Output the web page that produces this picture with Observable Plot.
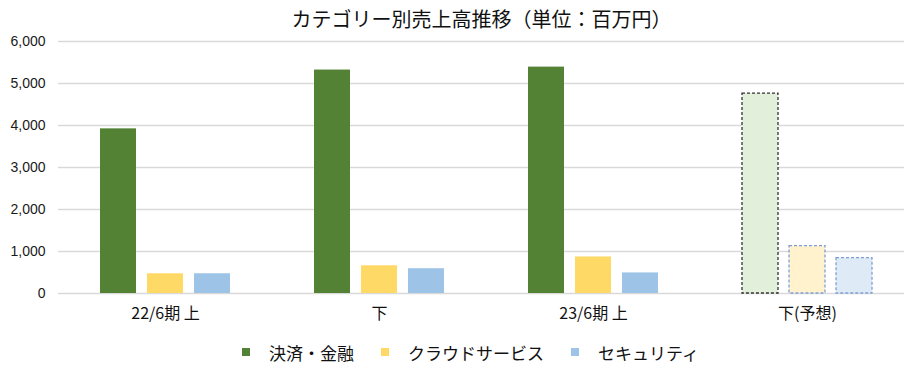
<!DOCTYPE html>
<html>
<head>
<meta charset="utf-8">
<script src="https://cdn.jsdelivr.net/npm/d3@7"></script>
<script src="https://cdn.jsdelivr.net/npm/@observablehq/plot@0.6"></script>
<style>
  body { margin: 0; background: #fff; width: 915px; height: 384px; position: relative; overflow: hidden; }
  #title { position: absolute; left: 58px; width: 847px; top: 4px; height: 30px; line-height: 30px; text-align: center;
           font-family: "Noto Sans CJK JP", sans-serif; font-size: 20px; color: #111; }
  #chart { position: absolute; left: 0; top: 34px; }
  #legend { position: absolute; left: 242px; top: 340px; height: 24px; display: flex; align-items: center;
            font-family: "Noto Sans CJK JP", sans-serif; font-size: 17px; color: #111; }
  .item { display: flex; align-items: center; margin-right: 27px; }
  .sw { width: 8px; height: 8px; margin-right: 19px; }
</style>
</head>
<body>
<div id="title">カテゴリー別売上高推移（単位：百万円）</div>
<div id="chart"></div>
<div id="legend"></div>
<script>
const periods = ["22/6期 上", "下", "23/6期 上", "下(予想)"];
const forecastPeriod = "下(予想)";
const series = ["決済・金融", "クラウドサービス", "セキュリティ"];
const payments = [3920, 5320, 5390, 4760];
const cloud = [470, 660, 870, 1130];
const security = [470, 590, 490, 840];
const yTicks = [0, 1000, 2000, 3000, 4000, 5000, 6000];

const colors = ["#548235", "#ffd966", "#9dc3e6"];
const forecastFills = ["#e2efda", "#fff2cc", "#deebf7"];
const forecastStrokes = ["#333333", "#7f9ed8", "#7f9ed8"];

const valuesBySeries = [payments, cloud, security];
const data = [];
periods.forEach((p, i) => {
  series.forEach((s, j) => {
    data.push({period: p, series: s, value: valuesBySeries[j][i], forecast: p === forecastPeriod});
  });
});

// grid rows per facet (last facet's grid stops short of the right edge)
const gridRows = [];
periods.forEach(p => yTicks.forEach(t => gridRows.push({period: p, tick: t})));
const gridStyle = {fx: "period", y: "tick", stroke: "#d9d9d9", strokeWidth: 1.3};

const actual = data.filter(d => !d.forecast);
const forecastMarks = series.map((s, j) =>
  Plot.barY(data.filter(d => d.forecast && d.series === s), {
    fx: "period", x: "series", y: "value",
    fill: forecastFills[j], stroke: forecastStrokes[j],
    strokeWidth: 1.3, strokeDasharray: "3,2"
  })
);

const chart = Plot.plot({
  width: 915,
  height: 300,
  marginTop: 7,
  marginBottom: 41,
  marginLeft: 57,
  marginRight: 0,
  style: {fontFamily: "'Noto Sans CJK JP', sans-serif", background: "white"},
  fx: {domain: periods, padding: 0, label: null},
  x: {domain: series, paddingInner: 0.23, paddingOuter: 0.85, axis: null},
  y: {domain: [0, 6000], label: null},
  color: {domain: series, range: colors},
  marks: [
    Plot.ruleY(gridRows.filter(d => d.period !== forecastPeriod), gridStyle),
    Plot.ruleY(gridRows.filter(d => d.period === forecastPeriod), {...gridStyle, insetRight: 10}),
    Plot.axisY({ticks: yTicks, tickSize: 0, tickPadding: 13, tickFormat: d3.format(","),
                fontSize: 14, fontFamily: "'Liberation Sans', Arial, sans-serif", fill: "#1a1a1a", label: null}),
    Plot.axisFx({anchor: "bottom", tickSize: 0, tickPadding: 14, fontSize: 16, fill: "#111", label: null}),
    Plot.barY(actual, {fx: "period", x: "series", y: "value", fill: "series"}),
    ...forecastMarks
  ]
});
document.getElementById("chart").appendChild(chart);

const legend = document.getElementById("legend");
series.forEach((s, j) => {
  const item = document.createElement("div");
  item.className = "item";
  const sw = document.createElement("div");
  sw.className = "sw";
  sw.style.background = colors[j];
  const t = document.createElement("span");
  t.textContent = s;
  item.appendChild(sw);
  item.appendChild(t);
  legend.appendChild(item);
});
</script>
</body>
</html>
